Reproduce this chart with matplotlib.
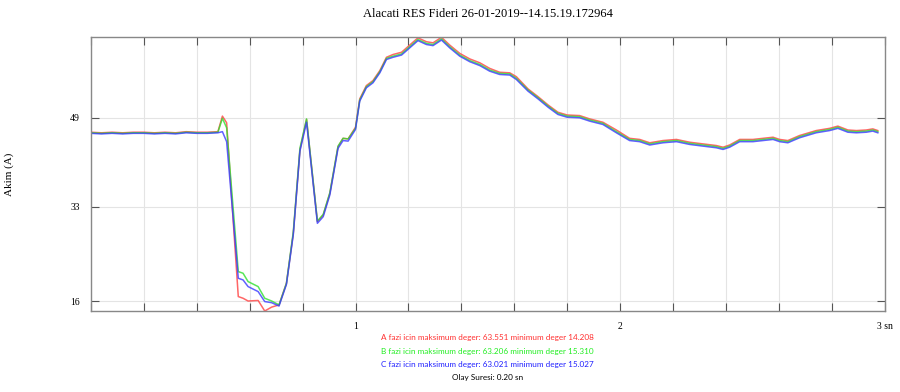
import matplotlib
matplotlib.use('Agg')
import matplotlib.pyplot as plt
import numpy as np

# zaman (sn)
t = [0.00, 0.04, 0.08, 0.12, 0.16, 0.20, 0.24, 0.28, 0.32, 0.36, 0.40, 0.44, 0.48,
     0.497, 0.513, 0.557, 0.575, 0.594, 0.632, 0.657, 0.683, 0.711, 0.739, 0.765,
     0.79, 0.815, 0.856, 0.878, 0.903, 0.934, 0.953, 0.972, 1.0, 1.016, 1.041,
     1.066, 1.092, 1.117, 1.142, 1.174, 1.205, 1.236, 1.268, 1.293, 1.325, 1.356,
     1.394, 1.432, 1.47, 1.507, 1.545, 1.583, 1.608, 1.652, 1.69, 1.728, 1.765,
     1.80, 1.847, 1.885, 1.935, 1.986, 2.036, 2.074, 2.112, 2.162, 2.213, 2.263,
     2.313, 2.364, 2.389, 2.414, 2.452, 2.502, 2.54, 2.578, 2.603, 2.634, 2.678,
     2.741, 2.792, 2.823, 2.861, 2.893, 2.93, 2.955, 2.974]

faz_a = [46.4, 46.3, 46.4, 46.3, 46.4, 46.4, 46.3, 46.4, 46.3, 46.5, 46.4, 46.4, 46.5,
         49.3, 48.1, 16.8, 16.5, 16.0, 16.1, 14.2, 14.9, 15.3, 19.2, 28.2,
         43.2, 48.7, 30.3, 31.5, 35.4, 43.8, 45.3, 45.2, 47.3, 52.4, 54.8,
         55.7, 57.5, 59.9, 60.4, 60.8, 62.1, 63.4, 62.7, 62.5, 63.5, 62.1,
         60.6, 59.6, 58.9, 57.9, 57.2, 57.1, 56.4, 54.2, 52.8, 51.3, 50.0,
         49.5, 49.4, 48.8, 48.2, 46.8, 45.3, 45.1, 44.5, 44.9, 45.1, 44.6,
         44.3, 44.0, 43.7, 44.1, 45.1, 45.1, 45.3, 45.5, 45.1, 44.9, 45.8,
         46.7, 47.1, 47.5, 46.8, 46.7, 46.8, 47.0, 46.7]

faz_b = [46.3, 46.2, 46.3, 46.2, 46.3, 46.3, 46.2, 46.3, 46.2, 46.4, 46.3, 46.3, 46.4,
         48.9, 47.2, 21.3, 21.0, 19.5, 18.6, 16.5, 16.0, 15.3, 19.2, 28.5,
         43.5, 48.8, 30.4, 31.6, 35.5, 43.9, 45.3, 45.2, 47.1, 52.2, 54.6,
         55.5, 57.3, 59.7, 60.1, 60.5, 61.8, 63.1, 62.4, 62.2, 63.2, 61.8,
         60.3, 59.3, 58.6, 57.6, 57.0, 56.9, 56.1, 54.0, 52.6, 51.1, 49.8,
         49.3, 49.2, 48.6, 48.0, 46.5, 45.1, 44.9, 44.3, 44.7, 44.9, 44.4,
         44.1, 43.8, 43.5, 43.9, 44.9, 44.9, 45.1, 45.3, 44.9, 44.7, 45.6,
         46.5, 46.9, 47.3, 46.6, 46.5, 46.6, 46.8, 46.5]

faz_c = [46.2, 46.1, 46.2, 46.1, 46.2, 46.2, 46.1, 46.2, 46.1, 46.3, 46.2, 46.2, 46.3,
         46.5, 44.7, 20.1, 19.8, 18.6, 17.7, 15.9, 15.7, 15.1, 19.0, 28.0,
         43.0, 48.2, 30.0, 31.2, 35.1, 43.5, 44.9, 44.8, 46.9, 52.0, 54.4,
         55.3, 57.1, 59.5, 59.9, 60.3, 61.6, 62.9, 62.2, 62.0, 63.0, 61.6,
         60.1, 59.1, 58.4, 57.4, 56.8, 56.7, 55.9, 53.8, 52.4, 50.9, 49.6,
         49.1, 49.0, 48.4, 47.8, 46.3, 44.9, 44.7, 44.1, 44.5, 44.7, 44.2,
         43.9, 43.6, 43.3, 43.7, 44.7, 44.7, 44.9, 45.1, 44.7, 44.5, 45.4,
         46.3, 46.7, 47.1, 46.4, 46.3, 46.4, 46.6, 46.3]

y_ticks = [16, 33, 49]
x_ticks = [1, 2, 3]
x_tick_labels = ['1', '2', '3 sn']

baslik = 'Alacati RES Fideri 26-01-2019--14.15.19.172964'
notlar = [
    ('A fazi icin maksimum deger: 63.551 minimum deger 14.208', '#ff3030'),
    ('B fazi icin maksimum deger: 63.206 minimum deger 15.310', '#22ee22'),
    ('C fazi icin maksimum deger: 63.021 minimum deger 15.027', '#2020ff'),
    ('Olay Suresi: 0.20 sn', 'black'),
]

serif = ['Liberation Serif', 'DejaVu Serif']

fig = plt.figure(figsize=(9, 3.92), dpi=100)
ax = fig.add_axes([0.101, 0.2066, 0.882, 0.699])

ax.plot(t, faz_a, color='#ff4040', lw=1.1, alpha=0.8)
ax.plot(t, faz_b, color='#30e030', lw=1.1, alpha=0.8)
ax.plot(t, faz_c, color='#3a3aff', lw=1.1, alpha=0.8)

ax.set_xlim(0, 3)
ax.set_ylim(14.2, 63.55)

# grid her 0.2 sn
ax.set_xticks(np.arange(0, 3.01, 0.2))
ax.set_xticklabels([])
for xt, lab in zip(x_ticks, x_tick_labels):
    ax.text(xt, -0.04, lab, transform=ax.get_xaxis_transform(), ha='center',
            va='top', fontsize=7, family=serif)
ax.set_yticks(y_ticks)
ax.set_yticklabels([str(v) for v in y_ticks], fontsize=7, family=serif)
ax.tick_params(direction='in', top=True, right=True, length=6, width=0.8,
               color='#555555', pad=8)
ax.grid(True, color='#e4e4e4', lw=0.8)
for s in ax.spines.values():
    s.set_color('#888888')
    s.set_linewidth(1.0)

ax.set_ylabel('Akim (A)', fontsize=8, family=serif, labelpad=40)
fig.text(0.542, 0.965, baslik, ha='center', va='center', fontsize=9, family=serif)

for i, (txt, col) in enumerate(notlar):
    fig.text(0.542, 0.138 - i * 0.034, txt, ha='center', va='center',
             fontsize=5.9, color=col, family=['Lato', 'DejaVu Sans'])

fig.savefig('out.png', dpi=100)
